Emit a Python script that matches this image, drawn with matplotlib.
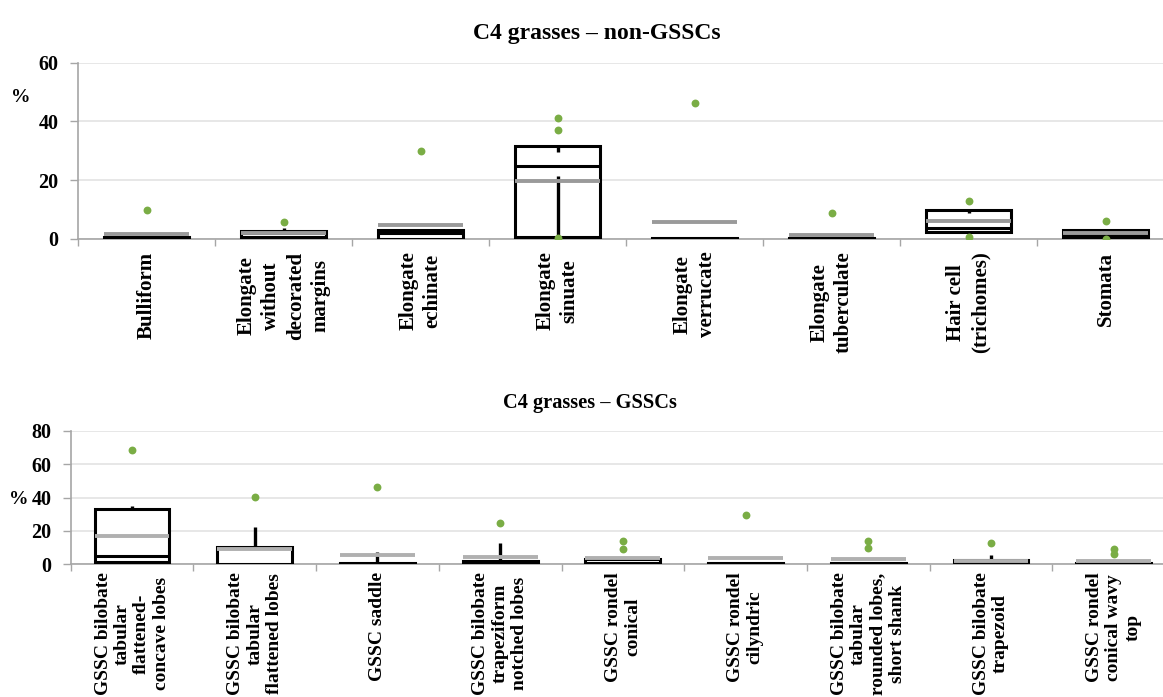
import matplotlib
matplotlib.use('Agg')
import matplotlib.pyplot as plt
import numpy as np

plt.rcParams['font.family'] = ['Liberation Serif', 'DejaVu Serif']
plt.rcParams['font.weight'] = 'bold'

# C4 grasses - non-GSSCs
top_labels = ['Bulliform', 'Elongate\nwithout\ndecorated\nmargins', 'Elongate\nechinate',
              'Elongate\nsinuate', 'Elongate\nverrucate', 'Elongate\ntuberculate',
              'Hair cell\n(trichomes)', 'Stomata']
top_q1 = [0.0, 0.8, 0.0, 0.6, 0.0, 0.0, 2.3, 0.5]
top_med = [0.3, 2.0, 1.9, 25.0, 0.1, 0.2, 3.9, 1.2]
top_q3 = [0.7, 2.8, 3.0, 31.6, 0.3, 0.5, 9.9, 3.2]
top_mean = [1.7, 1.9, 4.9, 19.6, 5.7, 1.2, 6.1, 1.9]
top_wmin = [0.0, 0.0, 0.0, 21.4, 0.0, 0.0, 2.3, 0.5]
top_wmax = [0.7, 3.7, 3.0, 29.7, 0.3, 0.5, 9.0, 3.5]
top_out = [[10.0], [5.9], [30.0], [41.1, 37.1, 0.3], [46.3], [8.8], [12.9, 0.7], [6.1, 0.1]]

# C4 grasses - GSSCs
bot_labels = ['GSSC bilobate\ntabular\nflattened-\nconcave lobes',
              'GSSC bilobate\ntabular\nflattened lobes', 'GSSC saddle',
              'GSSC bilobate\ntrapeziform\nnotched lobes', 'GSSC rondel\nconical',
              'GSSC rondel\ncilyndric', 'GSSC bilobate\ntabular\nrounded lobes,\nshort shank',
              'GSSC bilobate\ntrapezoid', 'GSSC rondel\nconical wavy\ntop']
bot_q1 = [1.0, 0.0, 0.0, 0.0, 0.0, 0.0, 0.0, 0.0, 0.0]
bot_med = [5.0, 9.5, 0.2, 1.0, 0.8, 0.2, 0.2, 0.5, 0.2]
bot_q3 = [32.9, 10.2, 0.6, 2.0, 3.3, 0.6, 0.6, 2.6, 0.5]
bot_mean = [16.6, 8.8, 5.6, 4.4, 3.9, 3.6, 2.8, 1.7, 1.8]
bot_wmin = [0.0, 0.0, 0.0, 0.0, 0.0, 0.0, 0.0, 0.0, 0.0]
bot_wmax = [35.0, 22.5, 7.4, 12.8, 3.3, 0.6, 0.6, 5.4, 0.5]
bot_out = [[68.4], [40.5], [46.5], [24.9], [13.8, 9.2], [29.3], [13.8, 9.4], [12.8], [9.0, 5.8]]

GREEN = '#7aad45'
AXIS = '#a6a6a6'


def draw_boxes(ax, q1, med, q3, mean, wmin, wmax, outs, width, mean_color):
    x = np.arange(len(q1))
    q1 = np.array(q1); q3 = np.array(q3)
    ax.bar(x, q3 - q1, bottom=q1, width=width, facecolor='white',
           edgecolor='black', linewidth=2.2, zorder=3)
    ax.hlines(med, x - width / 2, x + width / 2, color='black', linewidth=2.2, zorder=4)
    ax.vlines(x, wmin, q1, color='black', linewidth=2.4, zorder=4)
    ax.vlines(x, q3, wmax, color='black', linewidth=2.4, zorder=4)
    ax.hlines(mean, x - width / 2, x + width / 2, color=mean_color, linewidth=2.8, zorder=5)
    for i, pts in enumerate(outs):
        ax.scatter([i] * len(pts), pts, s=32, color=GREEN, zorder=6, linewidths=0)


def style_axis(ax, n, labels, ymax, fs, ls, pad):
    ax.set_xlim(-0.5, n - 0.5)
    ax.set_ylim(0, ymax)
    ax.set_yticks(np.arange(0, ymax + 1, 20))
    ax.yaxis.grid(True, color='#e3e3e3', linewidth=1.2)
    ax.set_axisbelow(True)
    for s in ['top', 'right']:
        ax.spines[s].set_visible(False)
    for s in ['left', 'bottom']:
        ax.spines[s].set_color(AXIS)
        ax.spines[s].set_linewidth(1.2)
    ax.set_xticks(np.arange(n))
    ax.set_xticklabels(labels, rotation=90, fontsize=fs, fontweight='bold',
                       linespacing=ls, va='top', ha='center', multialignment='center')
    ax.set_xticks(np.arange(n + 1) - 0.5, minor=True)
    ax.tick_params(axis='x', which='major', length=0, pad=pad)
    ax.tick_params(axis='x', which='minor', length=5, color=AXIS, width=1)
    ax.tick_params(axis='y', length=6, color=AXIS, width=1, labelsize=14.5, pad=8)
    for t in ax.get_yticklabels():
        t.set_fontweight('bold')


W, H = 1163, 697
fig = plt.figure(figsize=(W / 100, H / 100), dpi=100)

ax1 = fig.add_axes([78 / W, 1 - 239 / H, (1174 - 78) / W, (239 - 62.7) / H])
draw_boxes(ax1, top_q1, top_med, top_q3, top_mean, top_wmin, top_wmax, top_out, 0.62, '#9a9a9a')
style_axis(ax1, len(top_labels), top_labels, 60, 15, 1.3, 9)

ax2 = fig.add_axes([70.7 / W, 1 - 564 / H, (1175 - 70.7) / W, (564 - 431) / H])
draw_boxes(ax2, bot_q1, bot_med, bot_q3, bot_mean, bot_wmin, bot_wmax, bot_out, 0.61, '#b0b0b0')
style_axis(ax2, len(bot_labels), bot_labels, 80, 14, 1.18, 6)

fig.text(597 / W, 1 - 33 / H, 'C4 grasses \u2013 non-GSSCs', fontsize=17, fontweight='bold',
         ha='center', va='center')
fig.text(590 / W, 1 - 403 / H, 'C4 grasses \u2013 GSSCs', fontsize=14.7, fontweight='bold',
         ha='center', va='center')
fig.text(21 / W, 1 - 97 / H, '%', fontsize=14, fontweight='bold', ha='center', va='center')
fig.text(19 / W, 1 - 500 / H, '%', fontsize=14, fontweight='bold', ha='center', va='center')

fig.savefig('out.png', dpi=100)
